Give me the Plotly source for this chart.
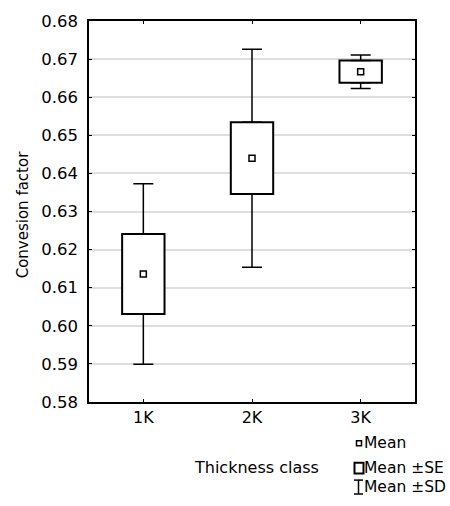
import plotly.graph_objects as go

categories = ["1K", "2K", "3K"]
mean = [0.6136, 0.6440, 0.6667]
se = [0.0105, 0.0094, 0.0029]
sd = [0.0237, 0.0286, 0.0044]

x_title = "Thickness class"
y_title = "Convesion factor"
legend_labels = ["Mean", "Mean ±SE", "Mean ±SD"]

FONT = "DejaVu Sans"
W, H = 450, 506
ML, MR, MT, MB = 89, 35, 19, 104
PW, PH = W - ML - MR, H - MT - MB


def px(x):
    return (x - ML) / PW


def py(y):
    return (MT + PH - y) / PH


fig = go.Figure()

# Mean ± SE boxes
fig.add_trace(go.Bar(
    x=categories,
    y=[2 * s for s in se],
    base=[m - s for m, s in zip(mean, se)],
    width=0.39,
    marker=dict(color="white", line=dict(color="black", width=2)),
    showlegend=False, hoverinfo="skip",
))

# Upper SD whiskers (from box top)
fig.add_trace(go.Scatter(
    x=categories,
    y=[m + s for m, s in zip(mean, se)],
    mode="markers",
    marker=dict(size=1, opacity=0),
    error_y=dict(type="data", symmetric=False,
                 array=[d - s for d, s in zip(sd, se)],
                 arrayminus=[0] * len(sd),
                 color="black", thickness=1.5, width=10),
    showlegend=False, hoverinfo="skip",
))

# Lower SD whiskers (from box bottom)
fig.add_trace(go.Scatter(
    x=categories,
    y=[m - s for m, s in zip(mean, se)],
    mode="markers",
    marker=dict(size=1, opacity=0),
    error_y=dict(type="data", symmetric=False,
                 array=[0] * len(sd),
                 arrayminus=[d - s for d, s in zip(sd, se)],
                 color="black", thickness=1.5, width=10),
    showlegend=False, hoverinfo="skip",
))

# Means
fig.add_trace(go.Scatter(
    x=categories, y=mean, mode="markers",
    marker=dict(symbol="square-open", size=6, color="black",
                line=dict(color="black", width=1.5)),
    showlegend=False,
))

annotations = [
    dict(text=y_title, x=px(23), y=0.49, xref="paper", yref="paper",
         textangle=-90, showarrow=False, xanchor="center", yanchor="middle",
         borderpad=0, font=dict(family=FONT, size=15, color="black")),
    dict(text=x_title, x=px(256), y=py(468), xref="paper", yref="paper",
         showarrow=False, xanchor="center", yanchor="middle",
         borderpad=0, font=dict(family=FONT, size=16, color="black")),
]
for lab, yy in zip(legend_labels, [443.5, 468.5, 487.5]):
    annotations.append(dict(text=lab, x=px(363), y=py(yy), xref="paper", yref="paper",
                            showarrow=False, xanchor="left", yanchor="middle",
                            borderpad=0, font=dict(family=FONT, size=15.5, color="black")))

shapes = [
    dict(type="rect", xref="paper", yref="paper",
         x0=px(356.5), x1=px(361.5), y0=py(441), y1=py(446),
         line=dict(color="black", width=1.5)),
    dict(type="rect", xref="paper", yref="paper",
         x0=px(354.5), x1=px(363.5), y0=py(463), y1=py(474),
         line=dict(color="black", width=2)),
    dict(type="line", xref="paper", yref="paper",
         x0=px(354), x1=px(363), y0=py(480.5), y1=py(480.5),
         line=dict(color="black", width=1.5)),
    dict(type="line", xref="paper", yref="paper",
         x0=px(358.5), x1=px(358.5), y0=py(480.5), y1=py(494.5),
         line=dict(color="black", width=1.5)),
    dict(type="line", xref="paper", yref="paper",
         x0=px(354), x1=px(363), y0=py(494.5), y1=py(494.5),
         line=dict(color="black", width=1.5)),
]

fig.update_layout(
    width=W, height=H,
    margin=dict(l=ML, r=MR, t=MT, b=MB, pad=0),
    paper_bgcolor="white", plot_bgcolor="white",
    font=dict(family=FONT, size=16, color="black"),
    showlegend=False,
    annotations=annotations,
    shapes=shapes,
    xaxis=dict(
        type="category", range=[-0.5, 2.5],
        showline=True, linecolor="black", linewidth=1.5, mirror="ticks",
        ticks="inside", ticklen=3, tickwidth=1, tickcolor="black",
        showgrid=False, zeroline=False,
        tickfont=dict(family=FONT, size=16, color="black"),
    ),
    yaxis=dict(
        range=[0.58, 0.68], dtick=0.01, tick0=0.58, tickformat=".2f",
        showline=True, linecolor="black", linewidth=1.5, mirror="ticks",
        ticks="inside", ticklen=3, tickwidth=1, tickcolor="black",
        showgrid=True, gridcolor="#dedede", gridwidth=1.5, zeroline=False,
        ticklabelstandoff=6,
        tickfont=dict(family=FONT, size=16.5, color="black"),
    ),
)

fig.write_html(
    "out.html",
    config={"displayModeBar": False},
    post_script="document.body.style.margin='0';document.body.style.overflow='hidden';",
)
